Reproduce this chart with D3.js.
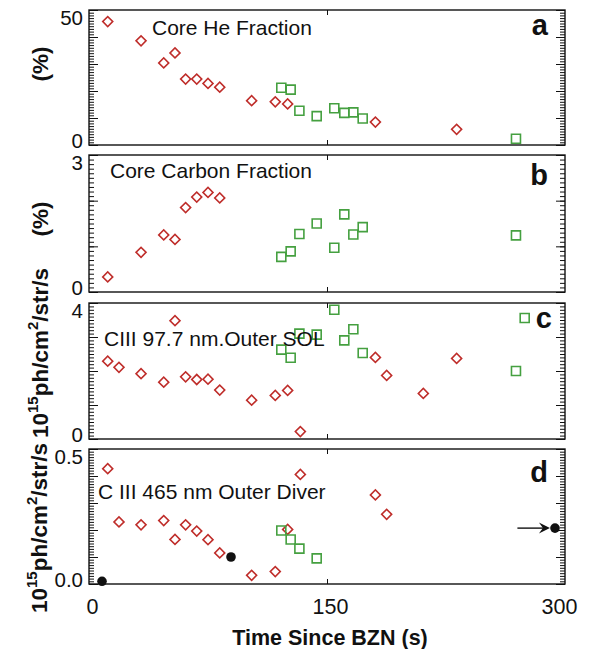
<!DOCTYPE html>
<html><head><meta charset="utf-8">
<script src="https://cdn.jsdelivr.net/npm/d3@7"></script>
<style>
body{margin:0;background:#fff}
svg text{font-family:"Liberation Sans",Arial,Helvetica,sans-serif;fill:#111}
</style>
</head><body>
<svg id="chart" width="590" height="649"></svg>
<script>
// ---------- data ----------
// panel a: Core He fraction (%)
const aRedT   = [11.8, 32.8, 47.1, 54.2, 60.9, 67.9, 75.0, 82.4, 102.5, 117.4, 125.2, 180.5, 231.7];
const aRedV   = [45.7, 38.6, 30.4, 34.1, 24.4, 24.4, 22.8, 21.4, 16.4, 16.0, 15.2, 8.5, 5.8];
const aGreenT = [121.2, 127.1, 132.6, 143.5, 154.6, 160.9, 166.6, 172.5, 269.1];
const aGreenV = [21.2, 20.5, 12.7, 10.7, 13.6, 11.9, 12.1, 9.8, 2.3];
// panel b: Core carbon fraction (%)
const bRedT   = [11.8, 32.8, 47.1, 54.2, 60.9, 67.9, 75.0, 82.4];
const bRedV   = [0.33, 0.87, 1.25, 1.15, 1.85, 2.08, 2.18, 2.06];
const bGreenT = [121.2, 127.1, 132.6, 143.5, 154.6, 160.9, 166.6, 172.5, 269.1];
const bGreenV = [0.77, 0.89, 1.27, 1.50, 0.97, 1.70, 1.26, 1.42, 1.24];
// panel c: C III 97.7 nm outer SOL
const cRedT   = [11.8, 18.9, 32.8, 47.1, 54.2, 60.9, 67.9, 75.0, 82.4, 102.5, 117.4, 125.2, 133.2, 180.5, 187.6, 210.7, 231.7];
const cRedV   = [2.29, 2.11, 1.92, 1.67, 3.48, 1.83, 1.75, 1.76, 1.44, 1.14, 1.28, 1.43, 0.22, 2.40, 1.87, 1.34, 2.37];
const cGreenT = [121.2, 127.1, 132.6, 143.5, 154.6, 160.9, 166.6, 172.5, 269.1, 274.6];
const cGreenV = [2.63, 2.39, 3.10, 3.07, 3.80, 2.90, 3.23, 2.53, 2.00, 3.56];
// panel d: C III 465 nm outer divertor
const dRedT   = [11.8, 18.9, 32.8, 47.1, 54.2, 60.9, 67.9, 75.0, 82.4, 102.5, 117.4, 125.2, 133.2, 180.5, 187.6];
const dRedV   = [0.427, 0.230, 0.219, 0.235, 0.165, 0.219, 0.196, 0.164, 0.115, 0.032, 0.046, 0.202, 0.406, 0.330, 0.258];
const dGreenT = [121.2, 127.1, 132.6, 143.5];
const dGreenV = [0.198, 0.165, 0.131, 0.095];
const dBlackT = [8.2, 89.5, 293.7];
const dBlackV = [0.010, 0.100, 0.207];
const dArrowT = [270, 290.5];
const dArrowV = [0.207, 0.207];

const xTicks = [0, 150, 300];
const xTitle = "Time Since BZN (s)";
const panelLetters = ["a", "b", "c", "d"];
const panelTitles = ["Core He Fraction", "Core Carbon Fraction", "CIII 97.7 nm.Outer SOL", "C III 465 nm Outer Diver"];
const yMax = [50, 3, 4, 0.5];
const yTickLabels = [["0", "50"], ["0", "3"], ["0", "4"], ["0.0", "0.5"]];
const yMajorStep = [10, 1, 1, 0.1];
const yMinorStep = [1, 0.1, 0.1, 0.01];

// ---------- layout ----------
const svg = d3.select("#chart");
const RED = "#bf2d2a", GREEN = "#45a040";
const x = d3.scaleLinear().domain([0, 300]).range([89, 565]);
const boxes = [[10, 145], [155, 292], [303, 439], [449, 584]];

function range(step, max) {
  const n = Math.round(max / step);
  return d3.range(n + 1).map(i => +(i * step).toFixed(4));
}

const series = [
  {red: [aRedT, aRedV], green: [aGreenT, aGreenV]},
  {red: [bRedT, bRedV], green: [bGreenT, bGreenV]},
  {red: [cRedT, cRedV], green: [cGreenT, cGreenV]},
  {red: [dRedT, dRedV], green: [dGreenT, dGreenV], black: [dBlackT, dBlackV]}
];

boxes.forEach(([top, bottom], i) => {
  const y = d3.scaleLinear().domain([0, yMax[i]]).range([bottom, top]);
  const g = svg.append("g");
  const minor = range(yMinorStep[i], yMax[i]);
  const major = range(yMajorStep[i], yMax[i]);

  // minor ticks left & right
  g.append("g").attr("transform", `translate(${x(0)},0)`)
    .call(d3.axisLeft(y).tickValues(minor).tickSize(-5).tickFormat(""))
    .call(s => s.select(".domain").remove());
  g.append("g").attr("transform", `translate(${x(300)},0)`)
    .call(d3.axisRight(y).tickValues(minor).tickSize(-5).tickFormat(""))
    .call(s => s.select(".domain").remove());
  // major ticks
  g.append("g").attr("transform", `translate(${x(0)},0)`)
    .call(d3.axisLeft(y).tickValues(major).tickSize(-9).tickFormat(""))
    .call(s => s.select(".domain").remove());
  g.append("g").attr("transform", `translate(${x(300)},0)`)
    .call(d3.axisRight(y).tickValues(major).tickSize(-9).tickFormat(""))
    .call(s => s.select(".domain").remove());
  // x ticks top & bottom
  g.append("g").attr("transform", `translate(0,${bottom})`)
    .call(d3.axisBottom(x).tickValues([150]).tickSize(-5).tickFormat(""))
    .call(s => s.select(".domain").remove());
  g.append("g").attr("transform", `translate(0,${top})`)
    .call(d3.axisTop(x).tickValues([150]).tickSize(-5).tickFormat(""))
    .call(s => s.select(".domain").remove());
  g.selectAll(".tick line").attr("stroke", "#111").attr("stroke-width", 1);

  // y tick labels (only ends)
  const lab = g.append("g").attr("transform", `translate(${x(0)},0)`)
    .call(d3.axisLeft(y).tickValues([0, yMax[i]]).tickSize(0).tickPadding(6)
      .tickFormat((d, k) => yTickLabels[i][k]));
  lab.select(".domain").remove();
  lab.selectAll("text").attr("font-size", 20.5).attr("fill", "#222")
    .attr("font-family", "Liberation Sans, Arial, sans-serif")
    .attr("dy", (d) => d === 0 ? "0.12em" : "0.72em");

  // frame
  g.append("rect").attr("x", x(0)).attr("y", top)
    .attr("width", x(300) - x(0)).attr("height", bottom - top)
    .attr("fill", "none").attr("stroke", "#111").attr("stroke-width", 1.4);

  // markers
  const s = series[i];
  const redPts = s.red[0].map((t, k) => [t, s.red[1][k]]);
  g.selectAll(".dia").data(redPts).join("path")
    .attr("d", d3.symbol(d3.symbolSquare, 50)())
    .attr("transform", d => `translate(${x(d[0])},${y(d[1])}) rotate(45)`)
    .attr("fill", "none").attr("stroke", RED).attr("stroke-width", 1.6);
  const greenPts = s.green[0].map((t, k) => [t, s.green[1][k]]);
  g.selectAll(".sq").data(greenPts).join("path")
    .attr("d", d3.symbol(d3.symbolSquare, 81)())
    .attr("transform", d => `translate(${x(d[0])},${y(d[1])})`)
    .attr("fill", "none").attr("stroke", GREEN).attr("stroke-width", 1.6);
  if (s.black) {
    const bp = s.black[0].map((t, k) => [t, s.black[1][k]]);
    g.selectAll(".dot").data(bp).join("circle")
      .attr("cx", d => x(d[0])).attr("cy", d => y(d[1])).attr("r", 4.8)
      .attr("fill", "#111");
    // arrow
    const x0 = x(dArrowT[0]), x1 = x(dArrowT[1]), ya = y(dArrowV[0]);
    g.append("line").attr("x1", x0).attr("x2", x1 - 6).attr("y1", ya).attr("y2", ya)
      .attr("stroke", "#111").attr("stroke-width", 1.4);
    g.append("path")
      .attr("d", `M${x1},${ya} L${x1 - 11},${ya - 5.5} L${x1 - 7},${ya} L${x1 - 11},${ya + 5.5} Z`)
      .attr("fill", "#111");
  }

  // panel title
  g.append("text").attr("x", [152, 110, 104, 98][i]).attr("y", [35, 178, 346, 499][i])
    .attr("font-size", 21).text(panelTitles[i]);
  // panel letter
  g.append("text").attr("x", [548, 548, 552, 548][i]).attr("y", [35, 185, 328, 482][i])
    .attr("text-anchor", "end").attr("font-size", 29).attr("font-weight", "bold")
    .text(panelLetters[i]);
});

// x axis labels (bottom panel)
const xl = svg.append("g").attr("transform", `translate(0,${boxes[3][1]})`)
  .call(d3.axisBottom(x).tickValues(xTicks).tickSize(0).tickPadding(15).tickFormat(d3.format("d")));
xl.select(".domain").remove();
xl.selectAll("text").attr("font-size", 21.5).attr("fill", "#222")
  .attr("font-family", "Liberation Sans, Arial, sans-serif")
  .attr("dx", d => d === 0 ? 3 : d === 300 ? -6 : 3);

svg.append("text").attr("x", 330).attr("y", 645).attr("text-anchor", "middle")
  .attr("font-size", 21.5).attr("font-weight", "bold").text(xTitle);

// y axis titles
function yTitle(cx, cy, parts) {
  const t = svg.append("text").attr("transform", `translate(${cx},${cy}) rotate(-90)`)
    .attr("text-anchor", "middle").attr("font-weight", "bold");
  parts.forEach(p => {
    t.append("tspan").attr("font-size", p.sup ? 15 : 22.5)
      .attr("dy", p.dy || 0).text(p.t);
  });
}
yTitle(48, 64, [{t: "(%)"}]);
yTitle(48, 219, [{t: "(%)"}]);
const unitParts = [
  {t: "10"}, {t: "15", sup: true, dy: -10}, {t: "ph/cm", dy: 10},
  {t: "2", sup: true, dy: -10}, {t: "/str/s", dy: 10}
];
yTitle(48, 353, unitParts);
yTitle(47, 528, unitParts);
</script>
</body></html>
